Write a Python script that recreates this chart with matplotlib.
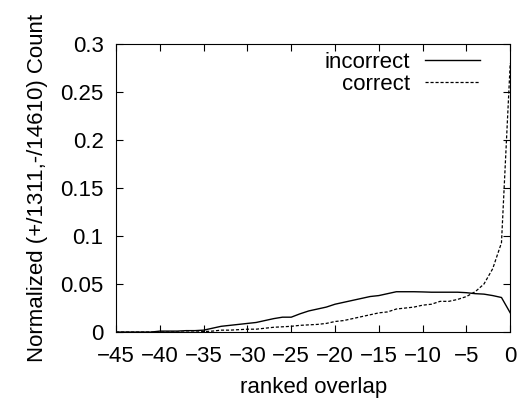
import numpy as np
import matplotlib
matplotlib.use("Agg")
import matplotlib.pyplot as plt

plt.rcParams['font.family'] = ['Liberation Sans', 'DejaVu Sans']

overlap = list(range(-45, 1))
incorrect = [0, 0, 0, 0, 0, 0.001, 0.001, 0.001, 0.0015, 0.0015,
             0.002, 0.004, 0.006, 0.007, 0.008, 0.009, 0.010, 0.012, 0.014, 0.0155,
             0.0155, 0.019, 0.022, 0.024, 0.026, 0.029, 0.031, 0.033, 0.035, 0.037,
             0.038, 0.040, 0.042, 0.042, 0.042, 0.0418, 0.0415, 0.0415, 0.0415, 0.0415,
             0.041, 0.040, 0.0395, 0.038, 0.036, 0.020]
correct = [0, 0, 0, 0, 0, 0, 0, 0, 0, 0,
           0.0005, 0.001, 0.002, 0.002, 0.0025, 0.003, 0.003, 0.004, 0.005, 0.0055,
           0.006, 0.007, 0.0075, 0.008, 0.009, 0.011, 0.012, 0.014, 0.016, 0.018,
           0.020, 0.021, 0.024, 0.025, 0.026, 0.028, 0.029, 0.032, 0.032, 0.034,
           0.037, 0.042, 0.050, 0.066, 0.093, 0.28]

fs = 16
fig = plt.figure(figsize=(5.18, 4.03), dpi=100)
ax = fig.add_axes([0.224, 0.176, 0.761, 0.715])
ax.plot(overlap, incorrect, color='black', lw=1.0, label='incorrect')
ax.plot(overlap, correct, color='black', lw=0.9, ls=(0, (2.5, 1.5)), label='correct')

ax.set_xlim(-45, 0)
ax.set_ylim(0, 0.3)
ax.set_xticks(range(-45, 1, 5))
ax.set_yticks([0, 0.05, 0.1, 0.15, 0.2, 0.25, 0.3])
ax.set_yticklabels(['0', '0.05', '0.1', '0.15', '0.2', '0.25', '0.3'])
ax.tick_params(direction='in', top=True, right=True, labelsize=fs, length=5)
ax.tick_params(axis='y', pad=9)
ax.tick_params(axis='x', pad=10)
ax.set_xlabel('ranked overlap', fontsize=fs, labelpad=7)
ax.set_ylabel('Normalized (+/1311,-/14610) Count', fontsize=fs, labelpad=9)
for s in ax.spines.values():
    s.set_linewidth(0.8)

ax.legend(loc='upper right', frameon=False, markerfirst=False, fontsize=fs,
          handlelength=2.45, handletextpad=0.7, labelspacing=0.05, borderaxespad=0.0,
          bbox_to_anchor=(0.945, 1.003))

fig.savefig('out.png', dpi=100)
